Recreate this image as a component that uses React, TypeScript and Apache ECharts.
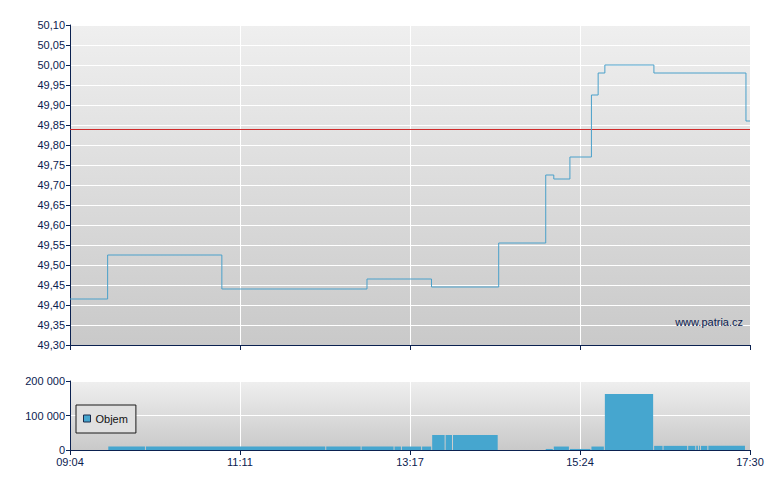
import React, { useEffect, useRef } from "react";
import * as echarts from "echarts";

// ---- data ----
const xTickLabels = ["09:04", "11:11", "13:17", "15:24", "17:30"];

const priceTimes = ["09:04", "09:32", "10:57", "12:45", "13:33", "14:23", "14:58", "15:04", "15:16", "15:32", "15:37", "15:42", "16:18:30", "17:27", "17:30"];
const priceValues = [49.415, 49.525, 49.44, 49.465, 49.445, 49.555, 49.725, 49.715, 49.77, 49.925, 49.98, 50.0, 49.98, 49.86, 49.86];
const referencePrice = 49.84;

const volStart = ["09:32:30", "10:00:30", "12:14:40", "12:41", "13:05:30", "13:11", "13:26", "13:33:30", "13:43:30", "13:49", "14:58", "15:04", "15:16", "15:32", "15:42", "16:18:40", "16:25:40", "16:44", "16:50", "16:52", "16:53:30", "16:59"];
const volEnd = ["10:00:30", "12:14:40", "12:41", "13:05:30", "13:11", "13:26", "13:33:30", "13:43:30", "13:49", "14:23", "15:04", "15:16", "15:32", "15:42", "16:18:40", "16:25:40", "16:44", "16:50", "16:52", "16:53:30", "16:59", "17:27"];
const volumes = [10000, 10000, 10000, 10000, 10000, 10000, 10000, 43500, 43500, 43500, 3000, 10000, 3000, 10000, 162000, 12000, 12000, 12000, 12000, 12000, 12000, 12000];

const priceMin = 49.3;
const priceMax = 50.1;
const priceStep = 0.05;
const volMax = 200000;
const volStep = 100000;

const absMin = (s: string) => {
  const p = s.split(":").map(Number);
  return p[0] * 60 + p[1] + (p[2] || 0) / 60;
};
const START = absMin(xTickLabels[0]);
const END = absMin(xTickLabels[xTickLabels.length - 1]);
const rel = (s: string) => absMin(s) - START;

const NAVY = "#0b2150";
const FONT = "'Liberation Sans', Arial, sans-serif";

export default function App() {
  const ref = useRef<HTMLDivElement>(null);
  useEffect(() => {
    if (!ref.current) return;
    const chart = echarts.init(ref.current, undefined, { renderer: "svg" });
    const span = END - START;
    const xInterval = span / (xTickLabels.length - 1);
    const bg = () =>
      new echarts.graphic.LinearGradient(0, 0, 0, 1, [
        { offset: 0, color: "#efefef" },
        { offset: 1, color: "#c9c9c9" },
      ]);
    const xAxisBase = {
      type: "value" as const,
      min: 0,
      max: span,
      interval: xInterval,
      axisLine: { show: true, lineStyle: { color: NAVY, width: 1 } },
      axisTick: { show: true, length: 5, lineStyle: { color: NAVY } },
      splitLine: { show: true, lineStyle: { color: "#ffffff", width: 1 } },
    };
    const option: any = {
      animation: false,
      textStyle: { fontFamily: FONT },
      grid: [
        { left: 70, top: 25, width: 680, height: 320, show: true, backgroundColor: bg(), borderWidth: 0 },
        { left: 70, top: 381, width: 680, height: 69, show: true, backgroundColor: bg(), borderWidth: 0 },
      ],
      xAxis: [
        { ...xAxisBase, gridIndex: 0, axisLabel: { show: false } },
        {
          ...xAxisBase,
          gridIndex: 1,
          axisLabel: {
            show: true,
            color: NAVY,
            fontSize: 11,
            fontFamily: FONT,
            margin: 6,
            formatter: (_v: number, i: number) => xTickLabels[i] ?? "",
          },
        },
      ],
      yAxis: [
        {
          type: "value",
          gridIndex: 0,
          min: priceMin,
          max: priceMax,
          interval: priceStep,
          axisLine: { show: true, lineStyle: { color: NAVY, width: 1 } },
          axisTick: { show: true, length: 4, lineStyle: { color: NAVY } },
          splitLine: { show: true, lineStyle: { color: "#ffffff", width: 1 } },
          axisLabel: {
            color: NAVY,
            fontSize: 11,
            fontFamily: FONT,
            margin: 5,
            formatter: (v: number) => v.toFixed(2).replace(".", ","),
          },
        },
        {
          type: "value",
          gridIndex: 1,
          min: 0,
          max: volMax,
          interval: volStep,
          axisLine: { show: true, lineStyle: { color: NAVY, width: 1 } },
          axisTick: { show: true, length: 4, lineStyle: { color: NAVY } },
          splitLine: { show: true, lineStyle: { color: "#ffffff", width: 1 } },
          axisLabel: {
            color: NAVY,
            fontSize: 11,
            fontFamily: FONT,
            margin: 5,
            formatter: (v: number) => String(Math.round(v)).replace(/\B(?=(\d{3})+(?!\d))/g, " "),
          },
        },
      ],
      legend: {
        show: true,
        left: 76,
        top: 405,
        orient: "vertical",
        backgroundColor: "#e0e0e0",
        borderColor: "#1a1a1a",
        borderWidth: 1,
        borderRadius: 0,
        padding: [8, 8, 9, 7],
        itemWidth: 7,
        itemHeight: 7,
        itemGap: 4,
        textStyle: { color: "#111", fontSize: 11, fontFamily: FONT },
        data: [
          {
            name: "Objem",
            icon: "rect",
            itemStyle: { color: "#46a6cf", borderColor: "#1a2a4a", borderWidth: 1 },
          },
        ],
      },
      graphic: [
        {
          type: "text",
          right: 37,
          top: 316,
          z: 100,
          style: { text: "www.patria.cz", fill: NAVY, font: `11px ${FONT}` },
        },
      ],
      series: [
        {
          type: "line",
          name: "Cena",
          xAxisIndex: 0,
          yAxisIndex: 0,
          step: "end",
          showSymbol: false,
          symbol: "none",
          lineStyle: { color: "#4aa0ca", width: 1 },
          data: priceTimes.map((t, i) => [rel(t), priceValues[i]]),
          markLine: {
            silent: true,
            symbol: "none",
            label: { show: false },
            lineStyle: { color: "#d02a2a", width: 1, type: "solid" },
            data: [{ yAxis: referencePrice }],
          },
          z: 5,
        },
        {
          type: "custom",
          name: "Objem",
          xAxisIndex: 1,
          yAxisIndex: 1,
          itemStyle: { color: "#46a6cf" },
          encode: { x: [0, 1], y: 2 },
          data: volStart.map((s, i) => [rel(s), rel(volEnd[i]), volumes[i]]),
          renderItem: (_params: any, api: any) => {
            const a = api.coord([api.value(0), api.value(2)]);
            const b = api.coord([api.value(1), 0]);
            const w = Math.max(1, b[0] - a[0] - 1);
            return {
              type: "rect",
              shape: { x: a[0], y: a[1], width: w, height: b[1] - a[1] },
              style: { fill: "#46a6cf" },
            };
          },
        },
      ],
    };
    chart.setOption(option);
    return () => chart.dispose();
  }, []);
  return (
    <div
      ref={ref}
      style={{ position: "fixed", left: 0, top: 0, width: 780, height: 490, background: "#ffffff" }}
    />
  );
}
